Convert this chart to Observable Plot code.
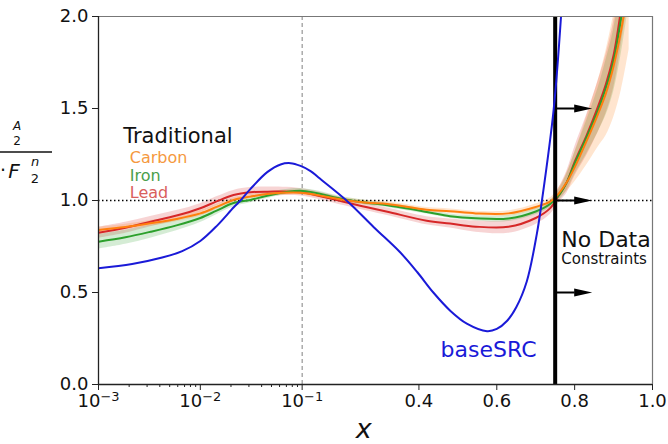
<!DOCTYPE html>
<html><head><meta charset="utf-8">
<script src="https://cdn.jsdelivr.net/npm/d3@7"></script>
<script src="https://cdn.jsdelivr.net/npm/@observablehq/plot@0.6"></script>
<style>
body{margin:0;background:#fff;}
#chart{position:relative;width:668px;height:444px;overflow:hidden;}
#chart svg{overflow:hidden;}
</style>
</head><body><div id="chart"></div>
<script>
// ---------- data ----------
const srcX = [0.001, 0.00214, 0.00422, 0.00664, 0.0100, 0.0147, 0.0213, 0.0248, 0.0311, 0.0454, 0.0614, 0.0769, 0.0964, 0.1216, 0.142, 0.214, 0.284, 0.351, 0.396, 0.437, 0.481, 0.523, 0.575, 0.6, 0.626, 0.65, 0.677, 0.703, 0.716, 0.746, 0.765];
const srcY = [0.632, 0.655, 0.690, 0.725, 0.780, 0.865, 0.963, 1.0, 1.063, 1.154, 1.196, 1.203, 1.188, 1.160, 1.125, 1.0, 0.855, 0.72, 0.61, 0.50, 0.40, 0.331, 0.290, 0.302, 0.345, 0.42, 0.56, 0.82, 1.0, 1.493, 2.0];

const tradX   = [0.001, 0.00184, 0.00324, 0.00584, 0.01, 0.01445, 0.0212, 0.0311, 0.0454, 0.0964, 0.2064, 0.267, 0.319, 0.42, 0.48, 0.546, 0.63, 0.70, 0.738, 0.76, 0.78, 0.80, 0.83, 0.86, 0.88, 0.90, 0.92, 0.94];
const carbonY = [0.840, 0.856, 0.876, 0.900, 0.930, 0.965, 1.003, 1.021, 1.035, 1.042, 1.003, 0.988, 0.981, 0.950, 0.942, 0.930, 0.930, 0.965, 0.995, 1.04, 1.10, 1.18, 1.32, 1.47, 1.58, 1.73, 1.93, 2.2];
const carbonE = [0.015, 0.015, 0.015, 0.015, 0.015, 0.014, 0.012, 0.012, 0.012, 0.012, 0.012, 0.012, 0.012, 0.012, 0.012, 0.012, 0.014, 0.016, 0.02, 0.03, 0.05, 0.08, 0.13, 0.18, 0.23, 0.28, 0.33, 0.38];
const ironY   = [0.776, 0.800, 0.830, 0.865, 0.905, 0.945, 0.986, 1.003, 1.026, 1.053, 1.007, 0.988, 0.974, 0.938, 0.915, 0.903, 0.902, 0.940, 0.982, 1.03, 1.10, 1.20, 1.34, 1.49, 1.61, 1.76, 2.0, 2.3];
const ironE   = [0.04, 0.038, 0.035, 0.03, 0.025, 0.022, 0.02, 0.015, 0.015, 0.012, 0.012, 0.012, 0.012, 0.012, 0.012, 0.014, 0.016, 0.018, 0.02, 0.03, 0.045, 0.06, 0.09, 0.12, 0.15, 0.17, 0.2, 0.22];
const leadY   = [0.825, 0.852, 0.885, 0.918, 0.958, 0.995, 1.030, 1.045, 1.048, 1.045, 0.993, 0.963, 0.939, 0.890, 0.875, 0.858, 0.857, 0.905, 0.960, 1.03, 1.10, 1.21, 1.35, 1.51, 1.63, 1.79, 2.05, 2.35];
const leadE   = [0.03, 0.03, 0.028, 0.027, 0.025, 0.025, 0.025, 0.025, 0.025, 0.02, 0.02, 0.02, 0.02, 0.022, 0.025, 0.03, 0.035, 0.035, 0.035, 0.04, 0.06, 0.08, 0.11, 0.14, 0.16, 0.18, 0.2, 0.22];

const seriesColors = ["#d62728", "#2ca02c", "#ff7f0e"];   // Lead, Iron, Carbon
const legendNames  = ["Carbon", "Iron", "Lead"];
const legendColors = ["#f5993f", "#4a9e4a", "#d9605c"];

const xMajor = [0.001, 0.01, 0.1, 0.4, 0.6, 0.8, 1.0];
const xMajorLabels = ["10⁻³", "10⁻²", "10⁻¹", "0.4", "0.6", "0.8", "1.0"];
const xMinor = [0.002,0.003,0.004,0.005,0.006,0.007,0.008,0.009,0.02,0.03,0.04,0.05,0.06,0.07,0.08,0.09];
const yTicks = [0, 0.5, 1.0, 1.5, 2.0];
const arrowYs = [0.5, 1.0, 1.5];

// ---------- mixed log / linear x transform ----------
const K = 3.823;
const xu = x => x <= 0.1 ? Math.log10(x) + 3 : 2 + (x - 0.1) * K;
const uMax = xu(1.0);

const srcData = srcX.map((x, i) => ({x, y: srcY[i]}));
const tradSets = [leadY, ironY, carbonY].map((ys, s) => {
  const es = [leadE, ironE, carbonE][s];
  return tradX.map((x, i) => ({x, y: ys[i], lo: ys[i] - es[i], hi: ys[i] + es[i]}));
});

const headSymbol = {draw(ctx) { ctx.moveTo(0, 0); ctx.lineTo(-18, -4); ctx.lineTo(-18, 4); ctx.closePath(); }};
const labelFmt = u => xMajorLabels[xMajor.findIndex(v => Math.abs(xu(v) - u) < 1e-9)];

const marks = [];
tradSets.forEach((rows, s) => {
  marks.push(Plot.areaY(rows, {x: d => xu(d.x), y1: "lo", y2: "hi", fill: seriesColors[s], fillOpacity: 0.2, curve: "catmull-rom", clip: true}));
});
marks.push(Plot.ruleY([1], {stroke: "#000", strokeWidth: 1.3, strokeDasharray: "1.5,2.5"}));
marks.push(Plot.ruleX([xu(0.1)], {stroke: "#808080", strokeWidth: 1, strokeDasharray: "4,3"}));
tradSets.forEach((rows, s) => {
  marks.push(Plot.line(rows, {x: d => xu(d.x), y: "y", stroke: seriesColors[s], strokeWidth: 2, curve: "catmull-rom", clip: true}));
});
marks.push(Plot.ruleX([xu(0.75)], {y1: 0, y2: 2, stroke: "#000", strokeWidth: 4}));
marks.push(Plot.link(arrowYs, {x1: xu(0.75), x2: xu(0.80), y1: d => d, y2: d => d, stroke: "#000", strokeWidth: 2}));
marks.push(Plot.dot(arrowYs, {x: xu(0.845), y: d => d, symbol: headSymbol, fill: "#000", stroke: "none"}));
marks.push(Plot.line(srcData, {x: d => xu(d.x), y: "y", stroke: "#1a1ad8", strokeWidth: 2, curve: "catmull-rom", clip: true}));
marks.push(Plot.ruleX([uMax], {stroke: "#777", strokeWidth: 1.2}));
marks.push(Plot.ruleY([2], {stroke: "#777", strokeWidth: 1.2}));
marks.push(Plot.ruleX([0], {stroke: "#222", strokeWidth: 1.3}));
marks.push(Plot.ruleY([0], {stroke: "#222", strokeWidth: 1.3}));
marks.push(Plot.axisX(xMinor.map(xu), {tickSize: 3, tickFormat: () => "", stroke: "#222"}));
marks.push(Plot.axisX(xMajor.map(xu), {tickSize: 6, tickPadding: 4, tickFormat: labelFmt, fontSize: 18, stroke: "#222", fill: "#111"}));
marks.push(Plot.axisY(yTicks, {tickSize: 6, tickPadding: 4, tickFormat: d3.format(".1f"), fontSize: 18, stroke: "#222", fill: "#111"}));
marks.push(Plot.text(["Traditional"], {x: xu(0.00175), y: 1.311, text: d => d, textAnchor: "start", lineAnchor: "bottom", fontSize: 21, fill: "#111"}));
[1.205, 1.108, 1.012].forEach((yy, i) => {
  marks.push(Plot.text([legendNames[i]], {x: xu(0.00203), y: yy, text: d => d, textAnchor: "start", lineAnchor: "bottom", fontSize: 16, fill: legendColors[i]}));
});
marks.push(Plot.text(["baseSRC"], {x: xu(0.4556), y: 0.151, text: d => d, textAnchor: "start", lineAnchor: "bottom", fontSize: 22, fill: "#1a1ad8"}));
marks.push(Plot.text(["No Data"], {x: xu(0.7657), y: 0.749, text: d => d, textAnchor: "start", lineAnchor: "bottom", fontSize: 22, fill: "#111"}));
marks.push(Plot.text(["Constraints"], {x: xu(0.7657), y: 0.655, text: d => d, textAnchor: "start", lineAnchor: "bottom", fontSize: 15, fill: "#111"}));
marks.push(Plot.text(["x"], {x: xu(0.258), y: 0, dy: 53, text: d => d, textAnchor: "middle", lineAnchor: "bottom", fontSize: 27, fontStyle: "italic", fill: "#111"}));

const chart = Plot.plot({
  width: 668, height: 444,
  marginLeft: 98, marginRight: 16, marginTop: 16, marginBottom: 60,
  style: {fontFamily: "DejaVu Sans", background: "#fff"},
  x: {type: "linear", domain: [0, uMax], axis: null},
  y: {type: "linear", domain: [0, 2], axis: null},
  marks
});
document.getElementById("chart").appendChild(chart);

// render 10⁻ⁿ tick labels with a proper superscript
d3.select(chart).selectAll("text").each(function() {
  const t = this.textContent;
  const m = /^10⁻([¹²³])$/.exec(t);
  if (!m) return;
  const exp = {"¹": "1", "²": "2", "³": "3"}[m[1]];
  const sel = d3.select(this);
  sel.text(null);
  sel.append("tspan").text("10");
  sel.append("tspan").attr("dy", "-0.5em").attr("font-size", "0.72em").text("−" + exp);
});

// partially visible y-axis label (fraction cut by the left edge)
const g = d3.select(chart).append("g").attr("font-family", "DejaVu Sans").attr("fill", "#111");
g.append("text").attr("x", 17).attr("y", 130).attr("font-size", 12).attr("font-style", "italic").text("A");
g.append("text").attr("x", 17).attr("y", 145).attr("font-size", 12).text("2");
g.append("line").attr("x1", 0).attr("x2", 52).attr("y1", 152).attr("y2", 152).attr("stroke", "#111").attr("stroke-width", 1.3);
g.append("text").attr("x", 3).attr("y", 177).attr("font-size", 19).text("·");
g.append("text").attr("x", 14).attr("y", 178).attr("font-size", 20).attr("font-style", "italic").text("F");
g.append("text").attr("x", 35).attr("y", 166).attr("font-size", 13).attr("font-style", "italic").text("n");
g.append("text").attr("x", 35).attr("y", 183).attr("font-size", 13).text("2");
</script>
</body></html>
